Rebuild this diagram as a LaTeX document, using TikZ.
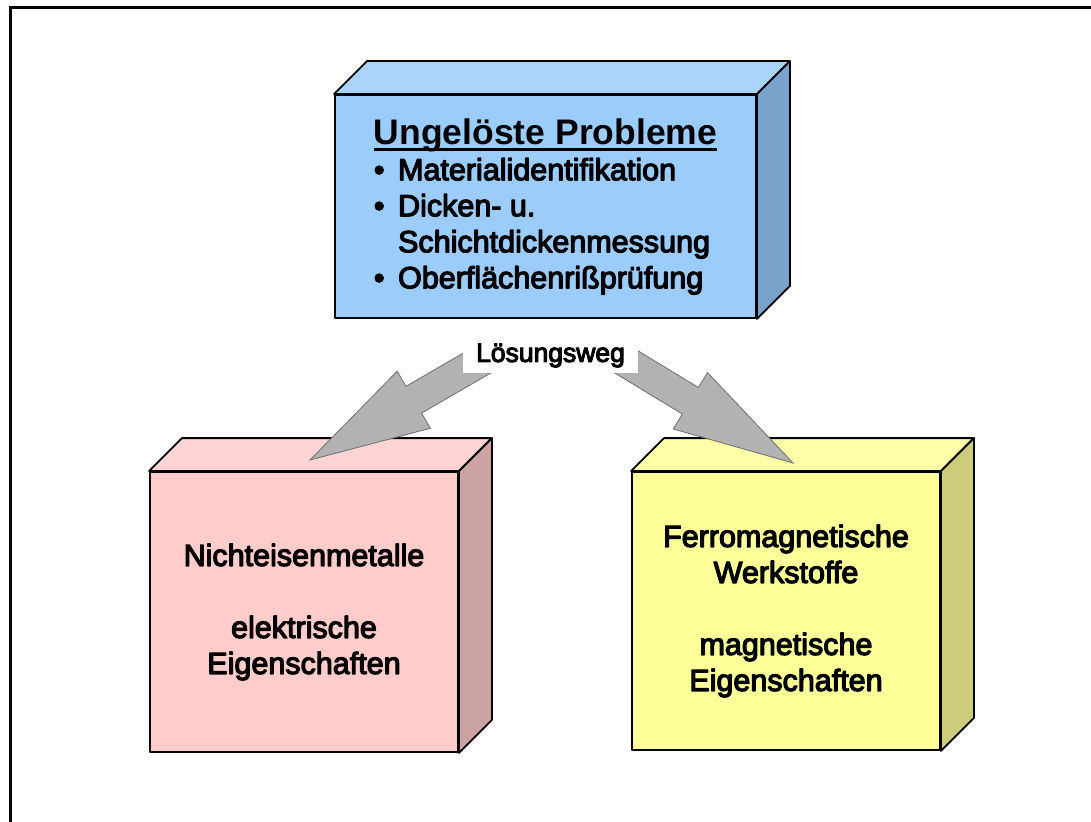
\documentclass[tikz,border=0pt]{standalone}
\usepackage{fontspec}
\setmainfont{Liberation Sans}
\newfontfamily\heavyfont{Liberation Sans}[FakeBold=4]
\usetikzlibrary{calc}

\definecolor{bluefront}{RGB}{156,204,250}
\definecolor{bluetop}{RGB}{170,212,252}
\definecolor{blueside}{RGB}{122,163,204}
\definecolor{pinkfront}{RGB}{255,204,204}
\definecolor{pinktop}{RGB}{255,212,212}
\definecolor{pinkside}{RGB}{204,163,163}
\definecolor{yellowfront}{RGB}{255,255,153}
\definecolor{yellowtop}{RGB}{255,255,170}
\definecolor{yellowside}{RGB}{204,204,122}
\definecolor{arrowgray}{RGB}{178,178,178}
\definecolor{arrowedge}{RGB}{110,110,110}

\newsavebox\titlebox
\newcommand\titleline[1]{\sbox\titlebox{#1}\rlap{\rule[-7pt]{\wd\titlebox}{3pt}}\usebox\titlebox}

\tikzset{
  face/.style={draw=black, line width=1.8pt, line join=round},
  front/.style={face, rectangle, inner sep=0pt,
    font=\heavyfont\fontsize{30.5}{36}\selectfont},
  wegbox/.style={fill=white, inner sep=0pt, minimum width=175pt, minimum height=35pt,
    font=\heavyfont\fontsize{26.5}{28}\selectfont},
  fatarrow/.style={draw=arrowedge, fill=arrowgray, line width=0.8pt, line join=miter,
    to path={
      ($(\tikztotarget)!120pt!(\tikztostart)$) coordinate (neck)
      ($(\tikztostart)!15.5pt!90:(\tikztotarget)$)
      -- ($(neck)!15.5pt!90:(\tikztotarget)$)
      -- ($(neck)!33pt!90:(\tikztotarget)$)
      -- (\tikztotarget)
      -- ($(neck)!33pt!-90:(\tikztotarget)$)
      -- ($(neck)!15.5pt!-90:(\tikztotarget)$)
      -- ($(\tikztostart)!15.5pt!-90:(\tikztotarget)$)
      -- cycle}}
}

\begin{document}
\begin{tikzpicture}[x=1pt, y=-1pt]
\useasboundingbox (0,0) rectangle (1091,821);
\draw[line width=3pt] (10,8) rectangle (1120,850);

\node[front, fill=bluefront, minimum width=421pt, minimum height=223pt, align=left] (probleme) at (545.5,206.5)
  {{\normalfont\bfseries\fontsize{35.5}{36}\selectfont\titleline{Ungelöste Probleme}}\\
   \textbullet\ \,Materialidentifikation\\
   \textbullet\ \,Dicken- u.\\
   \hphantom{\textbullet\ \,}Schichtdickenmessung\\
   \textbullet\ \,Oberflächenrißprüfung};
\node[front, fill=pinkfront, minimum width=308pt, minimum height=280pt, align=center] (nichteisen) at (304,612)
  {Nichteisenmetalle\\[36pt]elektrische\\Eigenschaften};
\node[front, fill=yellowfront, minimum width=308pt, minimum height=278pt, align=center] (ferro) at (786,611)
  {Ferromagnetische\\Werkstoffe\\[36pt]magnetische\\Eigenschaften};

\foreach \b/\t/\s in {probleme/bluetop/blueside, nichteisen/pinktop/pinkside, ferro/yellowtop/yellowside}{
  \draw[face, fill=\t] (\b.north west) -- ++(33,-33) -- ($(\b.north east)+(33,-33)$) -- (\b.north east) -- cycle;
  \draw[face, fill=\s] (\b.north east) -- ++(33,-33) -- ($(\b.south east)+(33,-33)$) -- (\b.south east) -- cycle;
}

\coordinate (tailL) at (496,352);
\coordinate (tipL) at (310,460);
\coordinate (tailR) at (610,352);
\coordinate (tipR) at (793,463);
\draw[fatarrow] (tailL) to (tipL);
\draw[fatarrow] (tailR) to (tipR);

\node[wegbox] (weg) at (550.5,355.5) {Lösungsweg};
\end{tikzpicture}
\end{document}
